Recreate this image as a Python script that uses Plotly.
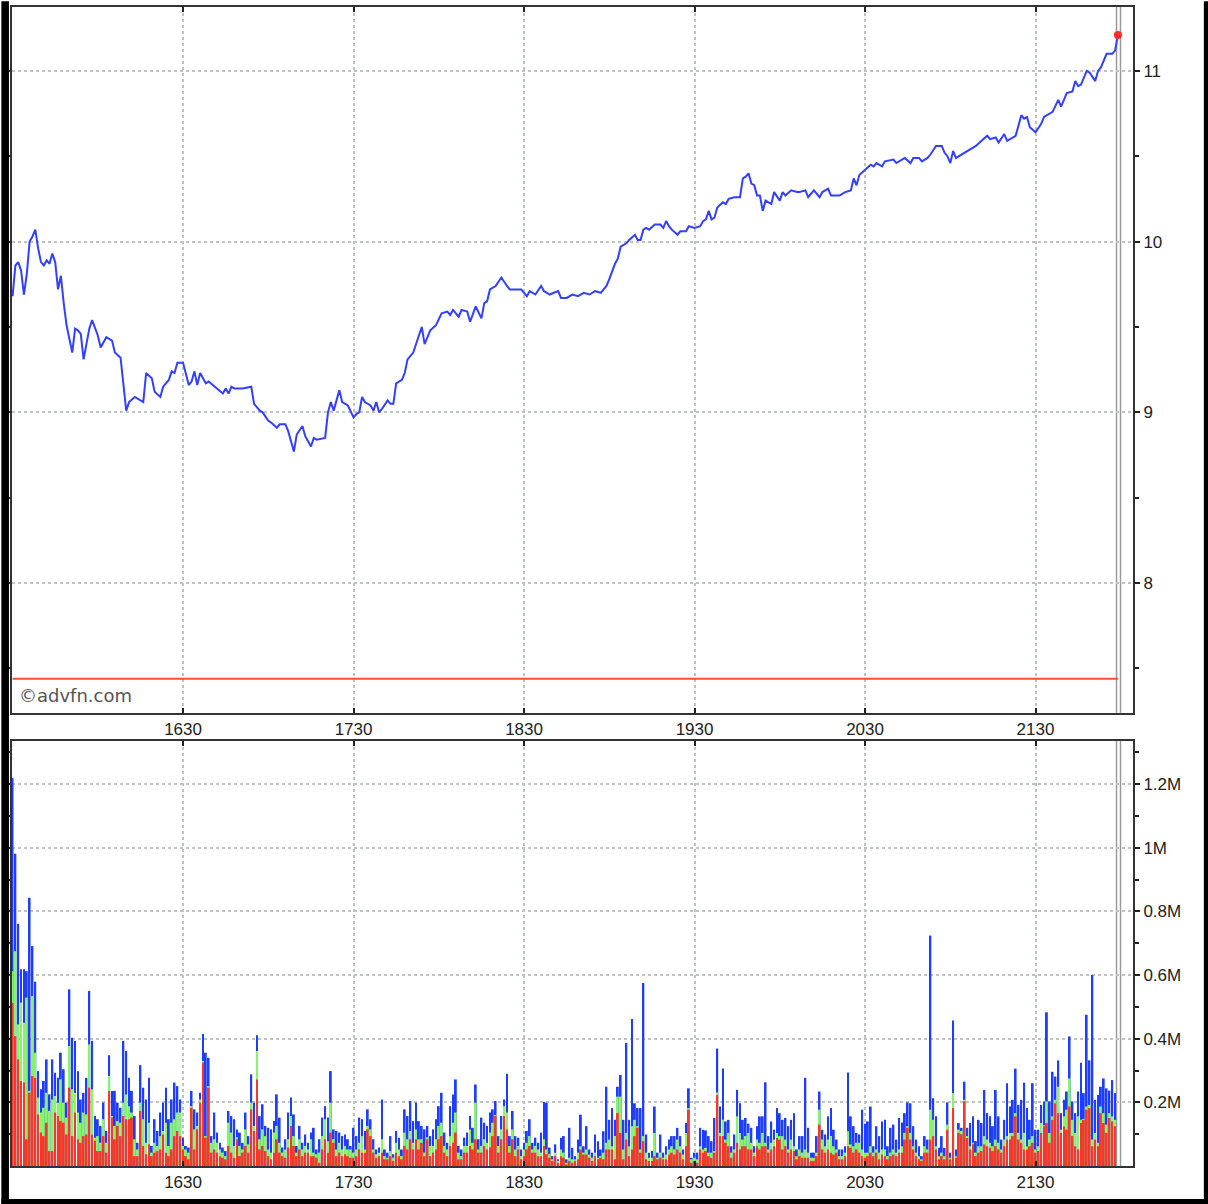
import plotly.graph_objects as go

# ---------------- data ----------------
TICK_MINUTES = [60, 120, 180, 240, 300, 360]          # minutes after 15:30
TICK_LABELS = ["1630", "1730", "1830", "1930", "2030", "2130"]
PRICE_TICKS = [8, 9, 10, 11]
PRICE_MINOR_TICKS = [7.5, 8.5, 9.5, 10.5]
VOL_TICKS = [200, 400, 600, 800, 1000, 1200]          # thousands
VOL_LABELS = ["0.2M", "0.4M", "0.6M", "0.8M", "1M", "1.2M"]
VOL_MINOR_TICKS = [100, 300, 500, 700, 900, 1100, 1300]
PREV_CLOSE = 7.44
NOW_MARKS = [388.5, 389.9]

PRICE_MIN = [0, 1, 2, 3, 4, 5, 6, 7, 8, 9, 10, 11, 12, 13, 14, 15, 16, 17, 18, 19,
             21, 22, 23, 24, 25, 27, 28, 30, 31, 33, 35, 36, 38, 39, 40, 41, 43, 44, 46, 47,
             49, 50, 52, 53, 55, 56, 57, 58, 60, 62, 63, 64, 65, 66, 68, 69, 71, 73, 74, 75,
             76, 77, 78, 81, 84, 85, 87, 88, 90, 91, 93, 94, 96, 97, 99, 100, 102, 103, 105, 106,
             107, 110, 111, 112, 113, 115, 116, 118, 120, 121, 122, 123, 124, 126, 127, 128, 129, 130, 132, 133,
             134, 135, 137, 138, 139, 141, 142, 143, 144, 145, 146, 147, 149, 151, 153, 154, 155, 157, 158, 160,
             161, 163, 165, 166, 167, 168, 170, 172, 174, 175, 177, 179, 181, 182, 184, 186, 187, 189, 192, 193,
             195, 197, 199, 201, 203, 205, 207, 209, 210, 211, 212, 213, 214, 216, 217, 219, 220, 221, 222, 223,
             224, 226, 228, 229, 230, 231, 232, 234, 235, 237, 238, 240, 242, 243, 244, 245, 246, 247, 248, 250,
             251, 252, 254, 256, 257, 258, 259, 260, 261, 262, 263, 264, 265, 267, 268, 270, 271, 272, 274, 276,
             277, 279, 280, 282, 284, 285, 287, 288, 290, 291, 293, 295, 296, 297, 298, 300, 301, 302, 303, 304,
             306, 307, 310, 311, 313, 314, 316, 317, 319, 320, 322, 323, 325, 327, 328, 329, 330, 331, 332, 334,
             336, 337, 338, 339, 341, 343, 344, 346, 347, 349, 350, 352, 353, 355, 356, 357, 358, 360, 362, 363,
             365, 366, 368, 369, 370, 371, 373, 374, 375, 376, 378, 379, 381, 382, 383, 385, 387, 388, 389]

PRICE = [9.68, 9.86, 9.88, 9.83, 9.69, 9.81, 10.00, 10.03, 10.07, 9.96, 9.88, 9.86, 9.89, 9.87, 9.93, 9.88, 9.72, 9.80, 9.64, 9.51,
         9.35, 9.49, 9.48, 9.46, 9.31, 9.49, 9.54, 9.45, 9.38, 9.44, 9.42, 9.35, 9.32, 9.18, 9.01, 9.06, 9.09, 9.08, 9.06, 9.23,
         9.20, 9.12, 9.09, 9.15, 9.19, 9.24, 9.23, 9.29, 9.29, 9.16, 9.18, 9.24, 9.16, 9.23, 9.17, 9.18, 9.15, 9.12, 9.11, 9.14,
         9.11, 9.15, 9.14, 9.14, 9.15, 9.05, 9.01, 9.00, 8.95, 8.94, 8.91, 8.93, 8.93, 8.89, 8.77, 8.87, 8.92, 8.86, 8.80, 8.85,
         8.84, 8.85, 9.00, 9.06, 9.01, 9.13, 9.06, 9.04, 8.97, 8.99, 9.00, 9.09, 9.06, 9.04, 9.01, 9.06, 9.00, 9.02, 9.07, 9.05,
         9.05, 9.17, 9.19, 9.23, 9.31, 9.35, 9.40, 9.45, 9.50, 9.40, 9.44, 9.48, 9.51, 9.58, 9.59, 9.57, 9.60, 9.56, 9.60, 9.59,
         9.53, 9.62, 9.55, 9.64, 9.65, 9.72, 9.74, 9.79, 9.74, 9.72, 9.72, 9.72, 9.68, 9.71, 9.69, 9.74, 9.71, 9.69, 9.71, 9.67,
         9.67, 9.69, 9.68, 9.70, 9.69, 9.71, 9.70, 9.74, 9.78, 9.83, 9.87, 9.90, 9.97, 9.99, 10.01, 10.04, 10.01, 10.01, 10.07, 10.08,
         10.07, 10.10, 10.10, 10.08, 10.12, 10.09, 10.07, 10.04, 10.06, 10.06, 10.09, 10.08, 10.09, 10.12, 10.13, 10.18, 10.13, 10.14, 10.20, 10.23,
         10.22, 10.25, 10.26, 10.26, 10.37, 10.38, 10.40, 10.34, 10.33, 10.27, 10.27, 10.18, 10.24, 10.22, 10.29, 10.24, 10.29, 10.27, 10.30, 10.29,
         10.29, 10.30, 10.26, 10.30, 10.26, 10.29, 10.31, 10.27, 10.27, 10.27, 10.29, 10.30, 10.37, 10.33, 10.39, 10.42, 10.43, 10.45, 10.44, 10.46,
         10.44, 10.47, 10.48, 10.46, 10.48, 10.49, 10.46, 10.49, 10.49, 10.47, 10.49, 10.51, 10.56, 10.56, 10.52, 10.50, 10.46, 10.53, 10.49, 10.51,
         10.53, 10.54, 10.55, 10.56, 10.59, 10.62, 10.60, 10.61, 10.58, 10.63, 10.59, 10.61, 10.62, 10.74, 10.72, 10.73, 10.67, 10.64, 10.69, 10.73,
         10.75, 10.76, 10.83, 10.79, 10.83, 10.87, 10.88, 10.94, 10.91, 10.92, 11.00, 10.99, 10.94, 11.00, 11.02, 11.10, 11.10, 11.12, 11.21]

# per-minute volume, thousands of shares (red = bottom part, red+green, total incl. blue)
VOL_RED = [
    513, 408, 335, 267, 262, 84, 230, 283, 277, 162,
    105, 94, 136, 47, 47, 168, 157, 141, 136, 99,
    246, 94, 168, 84, 73, 94, 99, 246, 99, 79,
    47, 47, 94, 42, 236, 152, 84, 126, 94, 157,
    147, 147, 152, 31, 31, 173, 63, 37, 68, 31,
    42, 47, 52, 99, 42, 31, 52, 94, 110, 94,
    52, 31, 21, 183, 52, 115, 199, 325, 89, 246,
    42, 52, 42, 31, 26, 21, 63, 42, 26, 84,
    31, 42, 63, 42, 178, 110, 272, 52, 63, 47,
    31, 21, 42, 84, 42, 31, 26, 58, 126, 63,
    31, 52, 31, 42, 42, 31, 31, 26, 10, 52,
    84, 42, 105, 73, 31, 42, 31, 37, 31, 26,
    26, 31, 52, 42, 42, 115, 94, 42, 26, 31,
    42, 21, 21, 31, 16, 42, 31, 21, 63, 52,
    84, 52, 84, 52, 73, 31, 84, 31, 42, 52,
    84, 94, 42, 31, 63, 73, 105, 21, 21, 42,
    42, 63, 52, 84, 42, 42, 63, 52, 58, 94,
    157, 42, 84, 157, 115, 42, 84, 31, 52, 21,
    31, 52, 63, 42, 42, 31, 31, 63, 37, 26,
    16, 31, 10, 31, 26, 5, 16, 10, 16, 21,
    52, 36, 36, 26, 16, 31, 21, 26, 21, 52,
    52, 52, 21, 166, 104, 21, 83, 31, 52, 94,
    120, 42, 78, 21, 16, 16, 31, 21, 26, 21,
    21, 36, 42, 36, 52, 42, 21, 62, 177, 10,
    16, 10, 52, 42, 47, 31, 26, 42, 223, 94,
    94, 73, 62, 26, 42, 73, 52, 62, 62, 52,
    52, 31, 62, 52, 62, 62, 42, 52, 62, 88,
    83, 52, 62, 42, 52, 47, 21, 31, 26, 26,
    26, 16, 16, 31, 130, 52, 42, 52, 42, 36,
    42, 21, 21, 31, 62, 57, 42, 52, 42, 31,
    26, 31, 42, 31, 42, 21, 36, 31, 21, 31,
    36, 31, 42, 42, 83, 120, 83, 52, 31, 21,
    16, 42, 42, 83, 94, 52, 21, 31, 21, 114,
    21, 182, 26, 104, 100, 203, 88, 52, 68, 31,
    42, 47, 68, 62, 57, 47, 62, 52, 42, 62,
    83, 83, 94, 156, 83, 73, 52, 52, 62, 73,
    42, 47, 104, 125, 135, 73, 145, 197, 166, 104,
    125, 114, 187, 94, 62, 52, 135, 145, 177, 182,
    62, 83, 62, 166, 135, 104, 151, 140, 125]

VOL_RED_GREEN = [
    612, 675, 445, 513, 450, 529, 236, 534, 356, 215,
    168, 183, 230, 173, 209, 220, 199, 272, 199, 152,
    377, 241, 230, 168, 136, 168, 162, 382, 241, 89,
    94, 73, 147, 73, 283, 157, 126, 141, 136, 199,
    225, 188, 168, 84, 52, 199, 147, 73, 136, 42,
    73, 63, 94, 110, 136, 63, 136, 147, 168, 168,
    63, 52, 42, 188, 115, 126, 209, 330, 94, 251,
    73, 84, 73, 52, 42, 31, 136, 105, 63, 90,
    63, 52, 115, 68, 199, 126, 361, 84, 115, 94,
    52, 42, 105, 126, 73, 42, 52, 84, 157, 94,
    42, 84, 52, 63, 52, 84, 42, 37, 42, 94,
    147, 78, 199, 84, 52, 73, 52, 63, 52, 52,
    42, 52, 73, 94, 52, 126, 115, 52, 37, 42,
    84, 31, 26, 47, 26, 73, 52, 31, 105, 84,
    110, 73, 115, 84, 84, 42, 90, 63, 63, 84,
    126, 136, 63, 52, 94, 136, 168, 42, 31, 63,
    63, 115, 73, 199, 52, 63, 84, 73, 105, 136,
    160, 63, 115, 188, 168, 63, 115, 52, 63, 31,
    52, 73, 94, 52, 63, 52, 42, 84, 52, 37,
    21, 42, 16, 52, 42, 10, 26, 21, 21, 42,
    62, 42, 52, 36, 26, 42, 26, 31, 42, 73,
    83, 62, 94, 218, 218, 52, 104, 62, 125, 145,
    125, 52, 94, 42, 26, 26, 104, 26, 42, 26,
    36, 52, 62, 52, 83, 62, 36, 104, 182, 21,
    26, 21, 62, 52, 57, 42, 42, 47, 231, 104,
    145, 83, 104, 42, 52, 156, 104, 83, 94, 104,
    73, 42, 83, 73, 104, 73, 52, 73, 83, 104,
    94, 94, 83, 52, 83, 62, 31, 52, 42, 52,
    42, 26, 26, 42, 177, 83, 62, 83, 94, 62,
    52, 31, 31, 42, 109, 68, 62, 73, 73, 52,
    42, 42, 62, 42, 52, 42, 52, 52, 31, 42,
    52, 42, 52, 62, 104, 125, 104, 62, 42, 31,
    21, 62, 52, 177, 145, 62, 31, 42, 31, 130,
    26, 229, 31, 114, 110, 208, 94, 62, 73, 42,
    62, 62, 94, 83, 73, 62, 83, 73, 52, 83,
    94, 104, 104, 166, 104, 83, 104, 62, 83, 94,
    52, 62, 135, 128, 203, 104, 156, 208, 249, 114,
    156, 177, 275, 145, 104, 156, 145, 148, 187, 192,
    83, 104, 73, 187, 166, 130, 166, 156, 145]

VOL_TOTAL = [
    1220, 981, 761, 618, 618, 612, 843, 691, 579, 298,
    241, 267, 335, 225, 335, 293, 277, 356, 304, 199,
    555, 403, 393, 298, 209, 230, 277, 550, 393, 157,
    147, 126, 199, 110, 348, 236, 236, 199, 183, 393,
    361, 277, 236, 157, 73, 317, 246, 209, 277, 63,
    147, 110, 168, 199, 246, 147, 209, 262, 251, 209,
    89, 63, 58, 236, 178, 168, 230, 415, 356, 340,
    94, 168, 105, 73, 58, 47, 173, 157, 147, 115,
    105, 73, 168, 94, 288, 199, 411, 157, 194, 126,
    120, 115, 141, 225, 152, 58, 84, 168, 215, 162,
    63, 126, 73, 99, 73, 105, 120, 52, 84, 152,
    188, 152, 298, 115, 110, 105, 94, 99, 84, 63,
    120, 94, 152, 147, 110, 178, 147, 84, 52, 58,
    209, 52, 42, 94, 37, 110, 89, 52, 178, 157,
    204, 141, 199, 141, 126, 115, 126, 94, 115, 147,
    188, 230, 105, 73, 188, 225, 272, 63, 52, 89,
    105, 157, 120, 256, 84, 152, 136, 126, 168, 178,
    204, 94, 157, 209, 290, 94, 173, 94, 89, 52,
    73, 110, 147, 73, 89, 73, 105, 201, 199, 58,
    31, 68, 21, 89, 94, 21, 120, 57, 31, 83,
    161, 62, 125, 52, 42, 99, 78, 52, 109, 249,
    145, 182, 145, 249, 286, 145, 387, 145, 462, 197,
    182, 182, 575, 99, 42, 47, 187, 42, 99, 42,
    62, 83, 94, 94, 120, 94, 52, 135, 244, 26,
    42, 42, 120, 114, 112, 94, 78, 151, 369, 187,
    306, 140, 145, 62, 99, 239, 197, 145, 151, 133,
    120, 62, 125, 156, 156, 263, 94, 140, 114, 182,
    166, 145, 151, 125, 145, 166, 52, 94, 94, 277,
    120, 42, 42, 94, 234, 114, 99, 156, 182, 114,
    83, 52, 52, 62, 294, 156, 125, 104, 99, 177,
    133, 140, 187, 62, 125, 94, 140, 145, 62, 120,
    130, 83, 151, 137, 166, 200, 197, 125, 83, 62,
    31, 94, 83, 724, 213, 156, 57, 94, 57, 200,
    42, 457, 52, 135, 120, 265, 120, 135, 156, 78,
    145, 135, 239, 166, 156, 125, 239, 156, 83, 145,
    260, 187, 208, 306, 192, 208, 262, 182, 145, 260,
    114, 114, 192, 203, 483, 203, 296, 281, 332, 166,
    208, 234, 407, 203, 166, 234, 324, 229, 475, 332,
    600, 208, 223, 249, 275, 244, 237, 270, 229]

VOL_MIN = list(range(len(VOL_TOTAL)))

# ---------------- styling ----------------
FRAME = "#333333"
GRID = "#bfc3c3"
TXT = "#222222"
FONT = "Liberation Sans, Arial, sans-serif"
X_RANGE = [-0.2, 394.3]

fig = go.Figure()

# volume (overlayed cumulative levels: blue total, green level, red level)
fig.add_trace(go.Bar(x=VOL_MIN, y=VOL_TOTAL, marker=dict(color="#1f3dff", line_width=0),
                     xaxis="x2", yaxis="y2", hoverinfo="skip"))
fig.add_trace(go.Bar(x=VOL_MIN, y=VOL_RED_GREEN, marker=dict(color="#86f56a", line_width=0),
                     xaxis="x2", yaxis="y2", hoverinfo="skip"))
fig.add_trace(go.Bar(x=VOL_MIN, y=VOL_RED, marker=dict(color="#f2392b", line_width=0),
                     xaxis="x2", yaxis="y2", hoverinfo="skip"))

# previous close line
fig.add_trace(go.Scatter(x=[PRICE_MIN[0], PRICE_MIN[-1]], y=[PREV_CLOSE, PREV_CLOSE], mode="lines",
                         line=dict(color="#ff4a3d", width=2), xaxis="x", yaxis="y", hoverinfo="skip"))
# price
fig.add_trace(go.Scatter(x=PRICE_MIN, y=PRICE, mode="lines",
                         line=dict(color="#3340ff", width=2), xaxis="x", yaxis="y"))
# last price dot
fig.add_trace(go.Scatter(x=[PRICE_MIN[-1]], y=[PRICE[-1]], mode="markers",
                         marker=dict(color="#ff2e24", size=8), xaxis="x", yaxis="y",
                         cliponaxis=False))

common_x = dict(range=X_RANGE, tickmode="array", tickvals=TICK_MINUTES, ticktext=TICK_LABELS,
                ticks="inside", ticklen=5, tickwidth=2, tickcolor=TXT,
                showline=True, mirror="allticks", linecolor=FRAME, linewidth=2,
                showgrid=True, gridcolor=GRID, gridwidth=1.5, griddash="dot",
                zeroline=False, tickfont=dict(family=FONT, size=17, color=TXT),
                ticklabelstandoff=0, fixedrange=True)

common_y = dict(side="right", ticks="outside", ticklen=5, tickwidth=2, tickcolor=TXT,
                showline=True, mirror="allticks", linecolor=FRAME, linewidth=2,
                showgrid=True, gridcolor=GRID, gridwidth=1.5, griddash="dot",
                zeroline=False, tickfont=dict(family=FONT, size=17, color=TXT), fixedrange=True)

fig.update_layout(
    width=1208, height=1204,
    margin=dict(l=10, r=75, t=5, b=38),
    paper_bgcolor="white", plot_bgcolor="white",
    showlegend=False, barmode="overlay", bargap=0.35,
    xaxis=dict(domain=[0, 1], anchor="y", **common_x),
    yaxis=dict(domain=[0.391, 1], anchor="x", range=[7.24, 11.374],
               tickmode="array", tickvals=PRICE_TICKS,
               minor=dict(tickmode="array", tickvals=PRICE_MINOR_TICKS, ticks="outside",
                          ticklen=4, tickcolor=TXT, showgrid=False),
               **common_y),
    xaxis2=dict(domain=[0, 1], anchor="y2", **common_x),
    yaxis2=dict(domain=[0, 0.3669], anchor="x2", range=[0, 1336],
                tickmode="array", tickvals=VOL_TICKS, ticktext=VOL_LABELS,
                minor=dict(tickmode="array", tickvals=VOL_MINOR_TICKS, ticks="outside",
                           ticklen=4, tickcolor=TXT, showgrid=False),
                **common_y),
)

# "now" double marker line through both panels (below the data)
shapes = []
for xv in NOW_MARKS:
    for yr in ["y domain", "y2 domain"]:
        shapes.append(dict(type="line", xref="x", yref=yr, x0=xv, x1=xv, y0=0, y1=1,
                           layer="below", line=dict(color="#9a9a9a", width=1.5)))
# outer black frame of the picture
shapes += [
    dict(type="rect", xref="paper", yref="paper", x0=-0.0095, x1=-0.0027, y0=-0.034, y1=1.005,
         fillcolor="black", line_width=0, layer="above"),
    dict(type="rect", xref="paper", yref="paper", x0=1.0632, x1=1.068, y0=-0.034, y1=1.005,
         fillcolor="black", line_width=0, layer="above"),
    dict(type="rect", xref="paper", yref="paper", x0=-0.0095, x1=1.068, y0=-0.034, y1=-0.0284,
         fillcolor="black", line_width=0, layer="above"),
]
fig.update_layout(shapes=shapes)

fig.add_annotation(text="©advfn.com", xref="paper", yref="paper", x=0.0045, y=0.4057,
                   xanchor="left", yanchor="middle", showarrow=False,
                   font=dict(family="DejaVu Sans, Verdana, sans-serif", size=18, color="#555555"))

fig.write_html("out.html", config={"displayModeBar": False},
               post_script="document.body.style.margin='0px';document.body.style.overflow='hidden';")
